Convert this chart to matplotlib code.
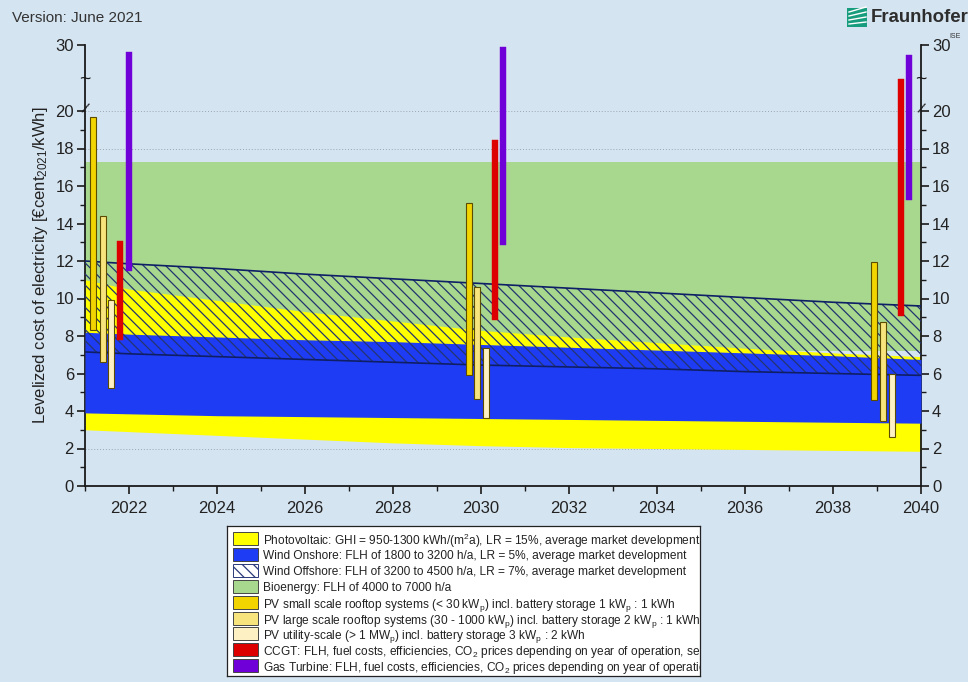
import numpy as np
import matplotlib
matplotlib.use("Agg")
import matplotlib.pyplot as plt
from matplotlib.patches import Rectangle
from matplotlib.lines import Line2D
import matplotlib.transforms as mtransforms

plt.rcParams['font.family'] = ['Liberation Sans', 'DejaVu Sans']
plt.rcParams['mathtext.fontset'] = 'custom'
plt.rcParams['mathtext.rm'] = 'Liberation Sans'
plt.rcParams['mathtext.it'] = 'Liberation Sans:italic'
plt.rcParams['mathtext.bf'] = 'Liberation Sans:bold'
plt.rcParams['hatch.linewidth'] = 0.9

# ---------------- data ----------------
band_years = [2021, 2022, 2024, 2026, 2028, 2030, 2032, 2034, 2036, 2038, 2040]
pv_low = [3.0, 2.9, 2.7, 2.5, 2.3, 2.15, 2.05, 2.0, 1.95, 1.9, 1.85]
pv_high = [11.0, 10.5, 9.9, 9.3, 8.8, 8.3, 7.95, 7.65, 7.35, 7.1, 6.9]
onshore_low = [3.9, 3.85, 3.75, 3.7, 3.65, 3.6, 3.55, 3.5, 3.45, 3.4, 3.35]
onshore_high = [8.2, 8.1, 7.95, 7.8, 7.7, 7.55, 7.4, 7.25, 7.1, 6.95, 6.75]
offshore_low = [7.15, 7.05, 6.9, 6.75, 6.6, 6.45, 6.35, 6.25, 6.1, 6.0, 5.9]
offshore_high = [12.0, 11.85, 11.6, 11.3, 11.05, 10.8, 10.55, 10.3, 10.05, 9.8, 9.6]
bio_low = [7.2] * len(band_years)
bio_high = [17.3] * len(band_years)

pv_small_x = [2021.18, 2029.73, 2038.93]
pv_small_low = [8.3, 5.9, 4.6]
pv_small_high = [19.7, 15.1, 11.95]
pv_large_x = [2021.41, 2029.90, 2039.14]
pv_large_low = [6.6, 4.65, 3.45]
pv_large_high = [14.4, 10.6, 8.75]
pv_util_x = [2021.59, 2030.11, 2039.34]
pv_util_low = [5.25, 3.65, 2.6]
pv_util_high = [9.9, 7.35, 5.95]
ccgt_x = [2021.80, 2030.32, 2039.55]
ccgt_low = [7.8, 8.85, 9.05]
ccgt_high = [13.05, 18.45, 24.8]
gt_x = [2022.00, 2030.50, 2039.73]
gt_low = [11.45, 12.85, 15.25]
gt_high = [28.96, 29.7, 28.5]

x_ticks = list(range(2022, 2041, 2))
y_ticks = [0, 2, 4, 6, 8, 10, 12, 14, 16, 18, 20, 30]

legend_labels = [
    r"Photovoltaic: GHI = 950-1300 kWh/(m$\mathregular{^2}$a), LR = 15%, average market development",
    "Wind Onshore: FLH of 1800 to 3200 h/a, LR = 5%, average market development",
    "Wind Offshore: FLH of 3200 to 4500 h/a, LR = 7%, average market development",
    "Bioenergy: FLH of 4000 to 7000 h/a",
    r"PV small scale rooftop systems (< 30 kW$\mathregular{_p}$) incl. battery storage 1 kW$\mathregular{_p}$ : 1 kWh",
    r"PV large scale rooftop systems (30 - 1000 kW$\mathregular{_p}$) incl. battery storage 2 kW$\mathregular{_p}$ : 1 kWh",
    r"PV utility-scale (> 1 MW$\mathregular{_p}$) incl. battery storage 3 kW$\mathregular{_p}$ : 2 kWh",
    r"CCGT: FLH, fuel costs, efficiencies, CO$\mathregular{_2}$ prices depending on year of operation, see table 4-6",
    r"Gas Turbine: FLH, fuel costs, efficiencies, CO$\mathregular{_2}$ prices depending on year of operation, see table 4-6",
]

# ---------------- style ----------------
BG = '#d5e4f1'
C_PV = '#ffff00'
C_ON = '#1f3cf5'
C_OFF = '#23356f'
C_BIO = '#a8d88e'
C_PVS = '#f2d400'
C_PVL = '#f8e47c'
C_PVU = '#fdf1c4'
C_CCGT = '#dd0000'
C_GT = '#7000d8'
NAVY = '#0f1f66'

K = 0.352
def fwd(y):
    y = np.asarray(y, dtype=float)
    return np.where(y <= 20, y, 20 + (y - 20) * K)
def inv(y):
    y = np.asarray(y, dtype=float)
    return np.where(y <= 20, y, 20 + (y - 20) / K)

fig = plt.figure(figsize=(9.68, 6.82), dpi=100, facecolor=BG)
ax = fig.add_axes([85/968, 1-486/682, (921-85)/968, (486-45)/682])
ax.set_facecolor(BG)
ax.set_yscale('function', functions=(fwd, inv))
ax.set_xlim(2021, 2040)
ax.set_ylim(0, 30)

# grid
for yt in y_ticks[1:-1]:
    ax.axhline(yt, color='#9aa6b2', lw=0.7, ls=(0, (1, 2)), zorder=0.5)

ax.fill_between(band_years, bio_low, bio_high, color=C_BIO, lw=0, zorder=1)
ax.fill_between(band_years, pv_low, pv_high, color=C_PV, lw=0, zorder=2)
ax.fill_between(band_years, onshore_low, onshore_high, color=C_ON, lw=0, zorder=3)
ax.fill_between(band_years, offshore_low, offshore_high, facecolor='none',
                edgecolor=C_OFF, hatch='\\\\\\', lw=0, zorder=4)
ax.plot(band_years, offshore_high, color=NAVY, lw=1.2, zorder=4.5)
ax.plot(band_years, offshore_low, color=NAVY, lw=1.2, zorder=4.5)

W = 0.14
def bars(xs, lo, hi, fc, ec, lw):
    ax.bar(xs, np.array(hi) - np.array(lo), bottom=lo, width=W, color=fc,
           edgecolor=ec, linewidth=lw, zorder=5)

bars(pv_small_x, pv_small_low, pv_small_high, C_PVS, '#5c4c00', 0.8)
bars(pv_large_x, pv_large_low, pv_large_high, C_PVL, '#5c4c00', 0.8)
bars(pv_util_x, pv_util_low, pv_util_high, C_PVU, '#5c4c00', 0.8)
bars(ccgt_x, ccgt_low, ccgt_high, C_CCGT, C_CCGT, 0.3)
bars(gt_x, gt_low, gt_high, C_GT, C_GT, 0.3)

# axes styling
for s in ['left', 'right', 'bottom']:
    ax.spines[s].set_linewidth(1.3)
    ax.spines[s].set_color('#1a1a1a')
ax.spines['top'].set_visible(False)
ax.set_xticks(x_ticks)
ax.set_xticks(range(2021, 2041), minor=True)
ax.set_yticks(y_ticks)
ax.set_yticks(list(range(1, 20, 2)), minor=True)
ax.set_yticklabels([str(v) for v in y_ticks])
ax.set_xticklabels([str(v) for v in x_ticks])
ax.tick_params(axis='both', which='major', direction='out', length=6, width=1.2,
               labelsize=12, colors='#1a1a1a', labelcolor='#222222')
ax.tick_params(axis='both', which='minor', direction='out', length=3.5, width=1.0,
               colors='#1a1a1a')
ax.tick_params(axis='y', which='both', left=True, right=True, labelleft=True, labelright=True, pad=2)
ax.tick_params(axis='x', which='major', pad=5)
ax.set_ylabel(r"Levelized cost of electricity [€cent$\mathregular{_{2021}}$/kWh]",
              fontsize=12, color='#222222', labelpad=4)

# axis break marks
trans = mtransforms.blended_transform_factory(ax.transAxes, ax.transData)
for xa in (0, 1):
    ax.text(xa, 24.8, '~', transform=trans, ha='center', va='center', fontsize=14,
            color='#1a1a1a', clip_on=False, zorder=10)
    ax.text(xa, 20.3, '/', transform=trans, ha='center', va='center', fontsize=11,
            color='#1a1a1a', clip_on=False, zorder=10, rotation=-25)

# header texts
fig.text(12/968, 1-18/682, "Version: June 2021", fontsize=11, color='#333333',
         ha='left', va='center')
fig.patches.append(Rectangle((847/968, 1-27/682), 20/968, 19/682, transform=fig.transFigure,
                             facecolor='#179c7d', edgecolor='none'))
for k in range(4):
    y0 = 1 - (24 - 4*k)/682
    fig.lines.append(Line2D([849/968, 866/968], [y0, y0 + (2+k)/682], transform=fig.transFigure,
                            color='white', lw=1.0))
fig.text(871/968, 1-18/682, "Fraunhofer", fontsize=13.4, fontweight='bold', color='#2d2d2d',
         ha='left', va='center')
fig.text(949/968, 1-36/682, "ISE", fontsize=5, color='#333333', ha='left', va='center')

# legend (manual box, long lines clipped by the frame as in the reference)
lax = fig.add_axes([227/968, 1-676/682, 473/968, 150/682])
lax.set_xlim(0, 473)
lax.set_ylim(150, 0)
lax.set_facecolor('white')
lax.set_xticks([])
lax.set_yticks([])
for s in lax.spines.values():
    s.set_linewidth(0.9)
    s.set_color('#222222')
leg_faces = [C_PV, C_ON, 'white', C_BIO, C_PVS, C_PVL, C_PVU, C_CCGT, C_GT]
for i, (fc, lab) in enumerate(zip(leg_faces, legend_labels)):
    yc = 12.5 + i * 15.9
    if i == 2:
        lax.add_patch(Rectangle((6, yc - 6.5), 25, 13, facecolor='white', edgecolor='#2a3a7a',
                                hatch='\\\\\\', lw=0.7))
    else:
        lax.add_patch(Rectangle((6, yc - 6.5), 25, 13, facecolor=fc, edgecolor='#444444', lw=0.7))
    lax.text(36, yc, lab, fontsize=8.6, color='#222222', ha='left', va='center_baseline',
             clip_on=True)

fig.savefig("out.png", dpi=100, facecolor=BG)
